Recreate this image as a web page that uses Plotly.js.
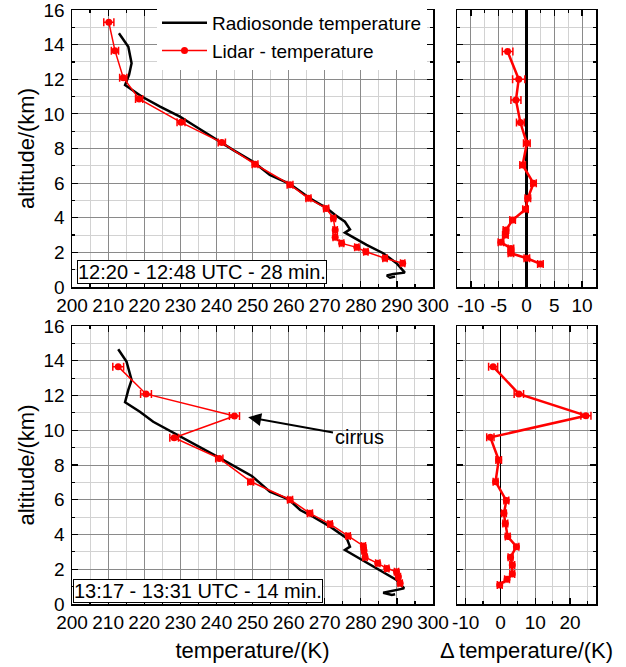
<!DOCTYPE html>
<html>
<head>
<meta charset="utf-8">
<script src="https://cdn.plot.ly/plotly-3.0.1.min.js"></script>
<style>html,body{margin:0;padding:0;background:#fff;}#chart{width:626px;height:667px;}</style>
</head>
<body>
<div id="chart"></div>
<script>
// ---- Top row (12:20 - 12:48 UTC) ----
const sondeTopT   = [213.0, 215.6, 216.5, 215.8, 214.7, 219.3, 224.4, 229.9, 233.6, 240.1, 244.7, 250.2, 254.8, 260.4, 265.9, 270.6, 272.9, 275.6, 277.0, 275.6, 281.6, 286.2, 289.9, 292.2, 289.0, 287.2, 288.1, 289.5];
const sondeTopAlt = [14.66, 13.88, 12.92, 12.25, 11.67, 11.00, 10.42, 9.84, 9.36, 8.49, 7.91, 7.24, 6.47, 5.95, 5.12, 4.55, 4.16, 3.77, 3.33, 3.14, 2.43, 1.95, 1.37, 0.83, 0.75, 0.66, 0.54, 0.60];

const lidarTopT   = [210.2, 211.9, 214.2, 218.6, 230.2, 241.5, 250.7, 260.4, 265.5, 270.4, 272.4, 272.9, 272.9, 274.7, 278.9, 281.4, 286.7, 291.6];
const lidarTopAlt = [15.29, 13.65, 12.09, 10.86, 9.51, 8.34, 7.09, 5.91, 5.12, 4.54, 3.97, 3.29, 2.87, 2.52, 2.29, 2.04, 1.66, 1.37];
const lidarTopErr = [1.4, 1.0, 1.0, 1.0, 1.1, 1.0, 0.8, 0.8, 0.7, 0.7, 0.6, 0.6, 0.6, 0.6, 0.6, 0.6, 0.6, 0.6];

const deltaTop    = [-3.4, -1.4, -1.9, -1.1, 0.06, -0.7, 1.26, 0.24, -0.18, -2.5, -3.7, -3.8, -4.6, -2.8, -2.8, 0.06, 2.5];
const deltaTopAlt = [13.6, 12.0, 10.8, 9.5, 8.3, 7.05, 5.99, 5.12, 4.49, 3.87, 3.29, 3.0, 2.58, 2.23, 1.95, 1.66, 1.33];
const deltaTopErr = [0.95, 1.1, 0.9, 0.7, 0.6, 0.5, 0.5, 0.5, 0.5, 0.5, 0.5, 0.5, 0.5, 0.5, 0.5, 0.5, 0.5];

// ---- Bottom row (13:17 - 13:31 UTC) ----
const sondeBotT   = [212.8, 215.1, 216.5, 215.6, 214.7, 218.8, 222.5, 228.1, 233.6, 240.5, 249.8, 254.8, 260.0, 263.2, 265.9, 271.5, 276.1, 277.0, 275.6, 281.2, 286.2, 289.9, 292.0, 289.0, 286.2, 288.6, 289.5];
const sondeBotAlt = [14.66, 13.95, 12.89, 12.32, 11.61, 11.07, 10.49, 9.86, 9.25, 8.45, 7.37, 6.46, 6.03, 5.41, 5.12, 4.45, 3.78, 3.30, 3.11, 2.44, 1.86, 1.38, 0.90, 0.77, 0.65, 0.52, 0.56];

const lidarBotT   = [212.8, 220.5, 245.0, 228.3, 240.8, 249.5, 260.4, 265.9, 271.5, 276.5, 280.7, 280.9, 281.2, 284.7, 287.2, 289.9, 290.4, 290.9];
const lidarBotAlt = [13.66, 12.09, 10.82, 9.57, 8.38, 7.04, 6.00, 5.22, 4.60, 3.91, 3.34, 3.07, 2.69, 2.34, 2.05, 1.86, 1.57, 1.19];
const lidarBotErr = [1.5, 1.5, 1.4, 1.2, 1.0, 0.8, 0.7, 0.7, 0.6, 0.6, 0.6, 0.6, 0.6, 0.6, 0.6, 0.6, 0.6, 0.6];

const deltaBot    = [-2.1, 5.3, 24.6, -2.9, -0.5, -1.4, 1.7, 1.0, 1.4, 2.1, 4.6, 2.9, 3.4, 3.4, 1.9, -0.2];
const deltaBotAlt = [13.66, 12.09, 10.84, 9.59, 8.29, 7.04, 5.95, 5.22, 4.64, 3.88, 3.30, 2.69, 2.24, 1.73, 1.42, 1.09];
const deltaBotErr = [1.3, 1.35, 1.45, 1.05, 0.8, 0.7, 0.7, 0.7, 0.7, 0.7, 0.7, 0.7, 0.7, 0.7, 0.7, 0.7];

// ---- Tick labels ----
const tempTicks   = [200, 210, 220, 230, 240, 250, 260, 270, 280, 290, 300];
const altTicks    = [0, 2, 4, 6, 8, 10, 12, 14, 16];
const deltaTopTickVals = [-10, -5, 0, 5, 10];
const deltaTopTickText = ['-10', '-5', '0', '5', '10'];
const deltaBotTickVals = [-10, 0, 10, 20];
const deltaBotTickText = ['-10', '0', '10', '20'];

const sondeName = 'Radiosonde temperature';
const lidarName = 'Lidar - temperature';
const periodTop = '12:20 - 12:48 UTC - 28 min.';
const periodBot = '13:17 - 13:31 UTC - 14 min.';

const RED = '#ff0000';
const FONT = 'Liberation Sans, Arial, sans-serif';

function sonde(x, y, xa, ya, show) {
  return {x: x, y: y, xaxis: xa, yaxis: ya, type: 'scatter', mode: 'lines',
    name: sondeName, showlegend: show, line: {color: '#000', width: 2.5}};
}
function lidar(x, y, e, xa, ya, show, lw) {
  return {x: x, y: y, xaxis: xa, yaxis: ya, type: 'scatter', mode: 'lines+markers',
    name: lidarName, showlegend: show,
    line: {color: RED, width: lw}, marker: {color: RED, size: 7, symbol: 'circle'},
    error_x: {type: 'data', array: e, visible: true, color: RED, thickness: 1.5, width: 4}};
}

const data = [
  sonde(sondeTopT, sondeTopAlt, 'x', 'y', true),
  lidar(lidarTopT, lidarTopAlt, lidarTopErr, 'x', 'y', true, 1.5),
  lidar(deltaTop, deltaTopAlt, deltaTopErr, 'x2', 'y2', false, 2.5),
  sonde(sondeBotT, sondeBotAlt, 'x3', 'y3', false),
  lidar(lidarBotT, lidarBotAlt, lidarBotErr, 'x3', 'y3', false, 1.5),
  lidar(deltaBot, deltaBotAlt, deltaBotErr, 'x4', 'y4', false, 2.5)
];

const xL = [72/626, 433/626], xR = [457/626, 596/626];
const yT = [1-287/667, 1-10/667], yB = [1-604/667, 1-326/667];
const tickFont = {family: FONT, size: 19, color: '#000'};
const titleFont = {family: FONT, size: 22, color: '#000'};

function ax(extra) {
  return Object.assign({
    showline: true, linecolor: '#000', linewidth: 1.5, mirror: 'allticks',
    ticks: 'inside', ticklen: 6, tickwidth: 1.2, tickcolor: '#000',
    showgrid: true, gridcolor: '#8a8a8a', gridwidth: 1,
    zeroline: false, tickfont: tickFont, fixedrange: true, ticklabeloverflow: 'allow'
  }, extra);
}
function minor(d) {
  return {dtick: d, tick0: 0, showgrid: true, gridcolor: '#d2d2d2', gridwidth: 1, ticks: 'inside', ticklen: 3, tickcolor: '#000'};
}

const layout = {
  width: 626, height: 667,
  margin: {l: 0, r: 0, t: 0, b: 0},
  paper_bgcolor: '#fff', plot_bgcolor: '#fff',
  font: {family: FONT, color: '#000'},
  showlegend: true,
  legend: {x: 157/626, y: 1-4/667, xanchor: 'left', yanchor: 'top', bgcolor: '#fff',
    borderwidth: 0, itemwidth: 45, font: {family: FONT, size: 19, color: '#000'}, tracegroupgap: 0},
  xaxis: ax({domain: xL, anchor: 'y', range: [200, 300], tickmode: 'array', tickvals: tempTicks,
    minor: minor(5), ticklabelstandoff: 1}),
  yaxis: ax({domain: yT, anchor: 'x', range: [0, 16], tickmode: 'array', tickvals: altTicks, minor: minor(1), ticklabelstandoff: 2,
    title: {text: 'altitude/(km)', font: titleFont, standoff: 3}}),
  xaxis2: ax({domain: xR, anchor: 'y2', range: [-12.5, 12.5], tickmode: 'array',
    tickvals: deltaTopTickVals, ticktext: deltaTopTickText, minor: minor(2.5),
    zeroline: true, zerolinecolor: '#000', zerolinewidth: 2.2, ticklabelstandoff: 1}),
  yaxis2: ax({domain: yT, anchor: 'x2', range: [0, 16], tickmode: 'array', tickvals: altTicks, minor: minor(1), showticklabels: false}),
  xaxis3: ax({domain: xL, anchor: 'y3', range: [200, 300], tickmode: 'array', tickvals: tempTicks,
    minor: minor(5), ticklabelstandoff: 1,
    title: {text: 'temperature/(K)', font: titleFont, standoff: 10}}),
  yaxis3: ax({domain: yB, anchor: 'x3', range: [0, 16], tickmode: 'array', tickvals: altTicks, minor: minor(1), ticklabelstandoff: 2,
    title: {text: 'altitude/(km)', font: titleFont, standoff: 3}}),
  xaxis4: ax({domain: xR, anchor: 'y4', range: [-12.5, 27.5], tickmode: 'array',
    tickvals: deltaBotTickVals, ticktext: deltaBotTickText, minor: minor(5),
    zeroline: true, zerolinecolor: '#000', zerolinewidth: 1.5, ticklabelstandoff: 1,
    title: {text: '\u0394\u2009temperature/(K)', font: titleFont, standoff: 10}}),
  yaxis4: ax({domain: yB, anchor: 'x4', range: [0, 16], tickmode: 'array', tickvals: altTicks, minor: minor(1), showticklabels: false}),
  annotations: [
    {xref: 'paper', yref: 'paper', x: 77/626, y: 1-284/667, xanchor: 'left', yanchor: 'bottom',
      text: periodTop, showarrow: false, font: {family: FONT, size: 20, color: '#000'},
      bgcolor: '#fff', bordercolor: '#000', borderwidth: 1, borderpad: 0},
    {xref: 'paper', yref: 'paper', x: 73/626, y: 1-603/667, xanchor: 'left', yanchor: 'bottom',
      text: periodBot, showarrow: false, font: {family: FONT, size: 20, color: '#000'},
      bgcolor: '#fff', bordercolor: '#000', borderwidth: 1, borderpad: 0},
    {xref: 'x3', yref: 'y3', x: 248.8, y: 10.75, axref: 'x3', ayref: 'y3', ax: 279.5, ay: 9.6,
      text: 'cirrus', showarrow: true, arrowhead: 2, arrowsize: 1.3, arrowwidth: 2, arrowcolor: '#000',
      font: {family: FONT, size: 20, color: '#000'}}
  ]
};

Plotly.newPlot('chart', data, layout, {displayModeBar: false, staticPlot: true});
</script>
</body>
</html>
